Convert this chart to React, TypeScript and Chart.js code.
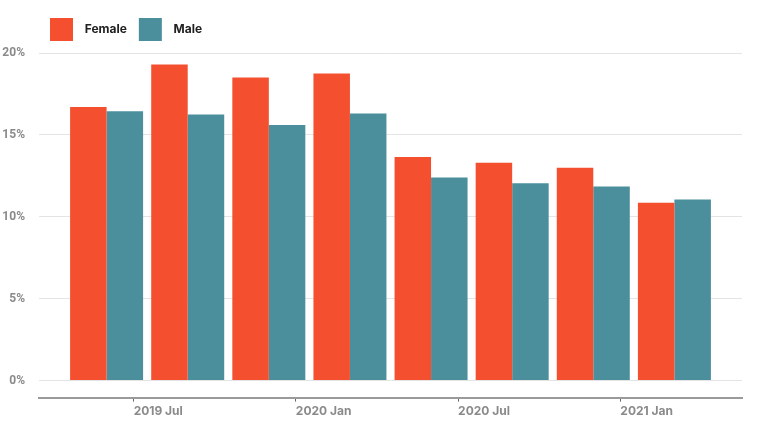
import { useEffect, useRef } from 'react';
import { Chart, registerables, type Plugin } from 'chart.js';

Chart.register(...registerables);

// quarterly periods (yyyy-mm) and rates in %
const periods = ['2019-06', '2019-09', '2019-12', '2020-03', '2020-06', '2020-09', '2020-12', '2021-03'];
const female = [16.7, 19.3, 18.5, 18.75, 13.65, 13.3, 13.0, 10.85];
const male = [16.45, 16.25, 15.6, 16.3, 12.4, 12.05, 11.85, 11.05];

const tickPeriods = ['2019-07', '2020-01', '2020-07', '2021-01'];
const tickLabels = ['2019 Jul', '2020 Jan', '2020 Jul', '2021 Jan'];
const yTicks = [0, 5, 10, 15, 20];

const FEMALE_COLOR = '#f4502f';
const MALE_COLOR = '#4b8f9c';

// months since 2019 Jan
const monthIndex = (p: string) => {
  const [y, m] = p.split('-').map(Number);
  return (y - 2019) * 12 + (m - 1);
};

// nudge the legend so it starts over the plot and sits a bit higher
const legendShift: Plugin = {
  id: 'legendShift',
  afterLayout(chart) {
    const legend = chart.legend;
    if (!legend) return;
    legend.left += 38;
    legend.right += 38;
    legend.top -= 2;
    legend.bottom -= 2;
  },
};

export default function App() {
  const canvasRef = useRef<HTMLCanvasElement>(null);
  const chartRef = useRef<Chart | null>(null);

  useEffect(() => {
    document.body.style.margin = '0';
    if (!canvasRef.current) return;
    chartRef.current?.destroy();

    const xs = periods.map(monthIndex);
    const tickXs = tickPeriods.map(monthIndex);

    chartRef.current = new Chart(canvasRef.current, {
      type: 'bar',
      data: {
        datasets: [
          {
            label: 'Female',
            data: xs.map((x, i) => ({ x, y: female[i] })),
            backgroundColor: FEMALE_COLOR,
            barPercentage: 1,
            categoryPercentage: 0.9,
          },
          {
            label: 'Male',
            data: xs.map((x, i) => ({ x, y: male[i] })),
            backgroundColor: MALE_COLOR,
            barPercentage: 1,
            categoryPercentage: 0.9,
          },
        ],
      },
      plugins: [legendShift],
      options: {
        animation: false,
        responsive: true,
        maintainAspectRatio: false,
        layout: { padding: { top: 8, right: 18, bottom: 3, left: 0 } },
        plugins: {
          tooltip: { enabled: false },
          legend: {
            position: 'top',
            align: 'start',
            labels: {
              boxWidth: 23,
              boxHeight: 23,
              padding: 12,
              color: '#222',
              font: { family: 'Inter', size: 12, weight: 'bold' },
              generateLabels: (chart) =>
                Chart.defaults.plugins.legend.labels
                  .generateLabels(chart)
                  .map((l) => ({ ...l, text: '  ' + l.text })),
            },
          },
        },
        scales: {
          x: {
            type: 'linear',
            offset: false,
            min: xs[0] - 2.5,
            max: xs[xs.length - 1] + 2.5,
            afterBuildTicks: (scale) => {
              scale.ticks = tickXs.map((value) => ({ value }));
            },
            ticks: {
              align: 'start',
              maxRotation: 0,
              autoSkip: false,
              padding: 3,
              color: '#8a8a8a',
              font: { family: 'Inter', size: 12, weight: 'bold' },
              callback: (v) => tickLabels[tickXs.indexOf(Number(v))] ?? '',
            },
            grid: {
              display: true,
              offset: false,
              drawOnChartArea: false,
              drawTicks: true,
              tickLength: 4,
              tickWidth: 1,
              tickColor: '#666',
              color: '#777',
            },
            border: { display: true, color: '#9a9a9a', width: 2 },
          },
          y: {
            min: -1.04,
            max: 20,
            afterBuildTicks: (scale) => {
              scale.ticks = yTicks.map((value) => ({ value }));
            },
            afterFit: (scale) => {
              scale.width = 39;
            },
            ticks: {
              padding: 14,
              color: '#8a8a8a',
              font: { family: 'Roboto', size: 12, weight: 'bold' },
              callback: (v) => `${v}%`,
            },
            grid: { color: '#e4e4e4', drawTicks: false },
            border: { display: false },
          },
        },
      },
    });

    return () => {
      chartRef.current?.destroy();
      chartRef.current = null;
    };
  }, []);

  return (
    <div style={{ position: 'relative', width: 760, height: 425 }}>
      <canvas ref={canvasRef} />
    </div>
  );
}
